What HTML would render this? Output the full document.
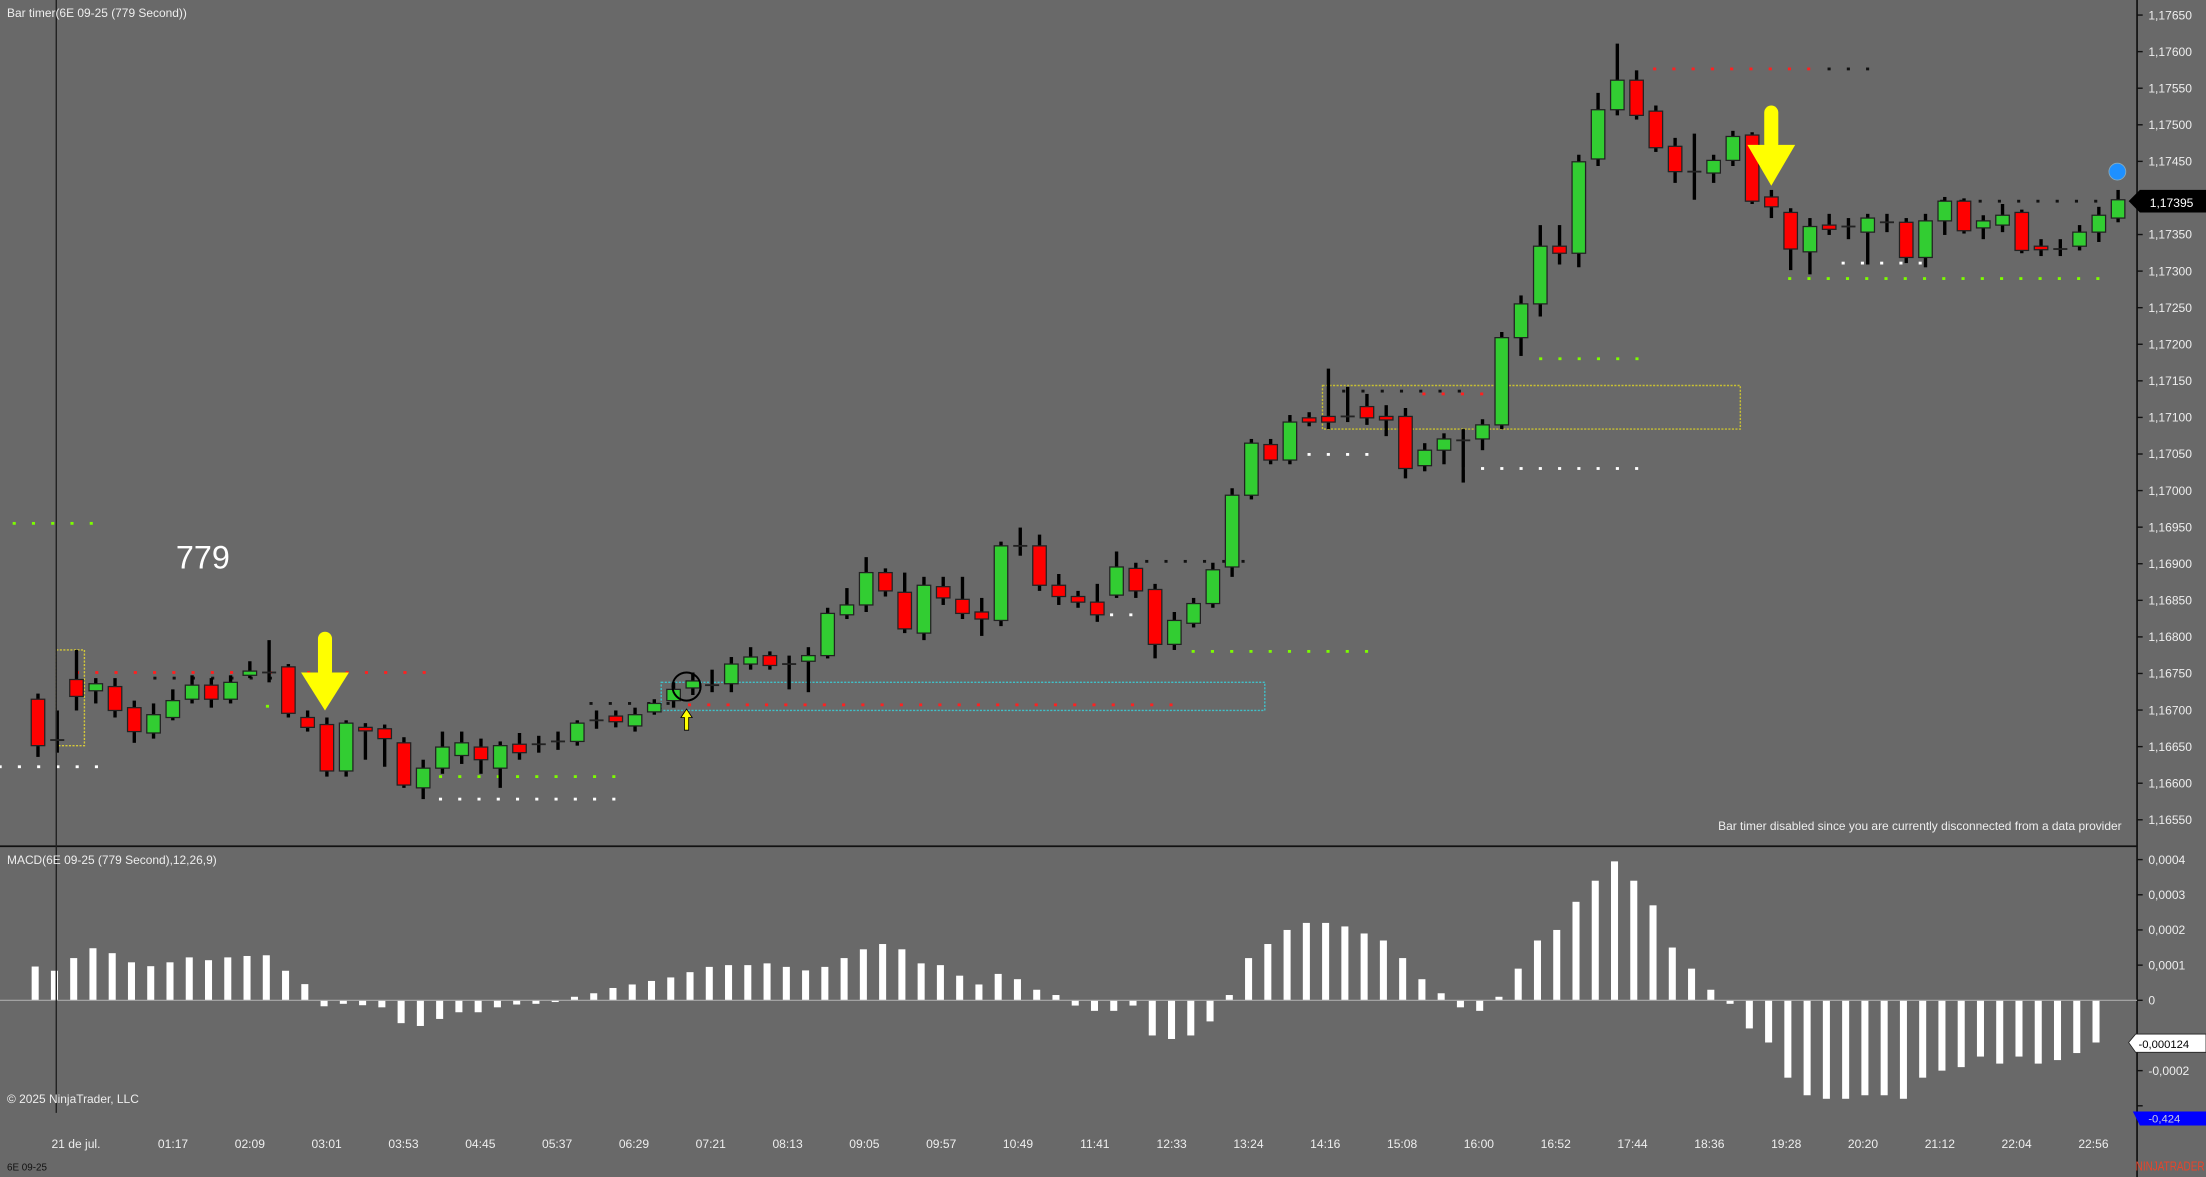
<!DOCTYPE html>
<html><head><meta charset="utf-8"><style>
html,body{margin:0;padding:0;background:#696969;overflow:hidden}
svg{display:block}
text{font-family:"Liberation Sans",sans-serif}
</style></head><body>
<svg id="s" width="2206" height="1177" viewBox="0 0 1568 836.6" preserveAspectRatio="none" xmlns="http://www.w3.org/2000/svg">
<rect x="0" y="0" width="1568" height="836.6" fill="#696969"/>
<g id="dots"></g>
<g id="boxes">
<rect x="40" y="462" width="20" height="68" fill="none" stroke="#d4c83a" stroke-width="1" stroke-dasharray="1.5,1"/>
<rect x="470" y="485" width="429" height="20" fill="none" stroke="#40c0c8" stroke-width="1" stroke-dasharray="1.5,1"/>
<rect x="940" y="274" width="297" height="31" fill="none" stroke="#c8c032" stroke-width="1" stroke-dasharray="1.5,1"/>
</g>
<g id="candles"></g>
<g id="macd"></g>
<line x1="1519" y1="0" x2="1519" y2="836.6" stroke="#111" stroke-width="1.2"/>
<line x1="0" y1="601.5" x2="1519" y2="601.5" stroke="#111" stroke-width="1.2"/>
<line x1="0" y1="867" x2="1568" y2="867" stroke="#111" stroke-width="1.2"/>
<line x1="0" y1="711" x2="1519" y2="711" stroke="#aaa" stroke-width="0.8"/>
<line x1="40" y1="0" x2="40" y2="791" stroke="#222" stroke-width="1"/>
<g id="axis" font-size="8.6" fill="#eee"></g>
<g fill="#ffff00">
<rect x="226" y="449" width="10" height="33" rx="5"/>
<polygon points="214,478 248,478 231,505"/>
<rect x="1254" y="75" width="10" height="32" rx="5"/>
<polygon points="1242,103 1276,103 1259,132"/>
<polygon points="488,504 492,510 489.5,510 489.5,519 486.5,519 486.5,510 484,510" stroke="#000" stroke-width="0.6"/>
</g>
<circle cx="488" cy="488" r="10" fill="none" stroke="#000" stroke-width="1.4"/>
<circle cx="1505" cy="122" r="6" fill="#1e90ff" stroke="#8ab" stroke-width="0.6"/>
<text x="125" y="404" font-size="23" fill="#fff">779</text>
<text x="5" y="12" font-size="8.5" fill="#eee">Bar timer(6E 09-25 (779 Second))</text>
<text x="1508" y="590" font-size="8.5" fill="#eee" text-anchor="end">Bar timer disabled since you are currently disconnected from a data provider</text>
<text x="5" y="614" font-size="8.5" fill="#eee">MACD(6E 09-25 (779 Second),12,26,9)</text>
<text x="5" y="784" font-size="8.5" fill="#eee">© 2025 NinjaTrader, LLC</text>
<text x="5" y="832" font-size="7" fill="#111">6E 09-25</text>
<polygon points="1513,143 1521,135 1568,135 1568,151 1521,151" fill="#000"/>
<text x="1528" y="147" font-size="8.6" fill="#fff">1,17395</text>
<polygon points="1513,741 1518,735 1568,735 1568,748 1518,748" fill="#fff" stroke="#222" stroke-width="0.6"/>
<text x="1520" y="745" font-size="8" fill="#000">-0,000124</text>
<polygon points="1516,790 1568,790 1568,800 1521,800" fill="#0000ff"/>
<text x="1527" y="798" font-size="8" fill="#ccd">-0,424</text>
<text x="1518" y="832" font-size="9" fill="#e8442a" textLength="49" lengthAdjust="spacingAndGlyphs">NINJATRADER</text>
</svg>
<script>
var NS="http://www.w3.org/2000/svg";
function el(p,t,a){var e=document.createElementNS(NS,t);for(var k in a)e.setAttribute(k,a[k]);p.appendChild(e);return e;}
var C=[
[497,530,493,538,'r'],[526,526,505,535,'d'],[483,495,462,505,'r'],[486,491,482,500,'g'],[488,505,482,510,'r'],
[503,520,498,528,'r'],[508,521,500,525,'g'],[498,510,490,512,'g'],[487,497,480,500,'g'],[487,497,482,503,'r'],
[485,497,480,500,'g'],[477,480,470,482,'g'],[478,478,455,485,'d'],[474,507,472,510,'r'],[510,517,505,520,'r'],
[515,548,510,552,'r'],[514,548,512,552,'g'],[517,519,514,540,'r'],[518,525,515,545,'r'],[528,558,524,560,'r'],
[546,560,540,568,'g'],[531,546,520,550,'g'],[528,537,520,543,'g'],[531,540,525,550,'r'],[530,546,527,560,'g'],
[529,535,521,540,'r'],[529,529,523,535,'d'],[527,527,520,533,'d'],[514,527,512,530,'g'],[512,512,505,518,'d'],
[509,513,505,517,'r'],[508,516,503,520,'g'],[500,506,497,508,'g'],[490,498,485,503,'g'],[484,489,478,494,'g'],
[487,487,476,492,'d'],[472,486,467,492,'g'],[467,472,460,476,'g'],[466,473,463,476,'r'],[472,472,466,490,'d'],
[466,470,460,492,'g'],[436,466,432,468,'g'],[430,437,418,440,'g'],[407,430,396,435,'g'],[407,420,404,424,'r'],
[421,447,407,450,'r'],[416,450,410,455,'g'],[417,425,410,430,'r'],[426,436,410,440,'r'],[435,440,425,452,'r'],
[388,441,385,445,'g'],[388,388,375,395,'d'],[388,416,380,420,'r'],[416,424,408,430,'r'],[424,428,420,432,'r'],
[428,437,415,442,'r'],[403,423,392,425,'g'],[404,420,400,425,'r'],[419,458,415,468,'r'],[441,458,435,462,'g'],
[429,443,425,446,'g'],[405,429,400,432,'g'],[352,403,347,410,'g'],[315,352,312,355,'g'],[316,327,312,330,'r'],
[300,327,295,330,'g'],[297,300,293,303,'r'],[296,300,262,305,'r'],[296,296,275,300,'d'],[289,297,280,302,'r'],
[296,298,288,310,'r'],[296,333,290,340,'r'],[320,331,315,335,'g'],[312,320,308,330,'g'],[313,313,305,343,'d'],
[302,312,298,320,'g'],[240,302,236,305,'g'],[216,240,210,253,'g'],[175,216,160,225,'g'],[175,180,160,188,'r'],
[115,180,110,190,'g'],[78,113,66,118,'g'],[57,78,31,82,'g'],[57,82,50,85,'r'],[79,105,75,108,'r'],
[104,122,98,130,'r'],[122,122,95,142,'d'],[114,123,110,130,'g'],[97,114,93,118,'g'],[96,143,94,145,'r'],
[140,147,135,155,'r'],[151,177,148,192,'r'],[161,179,155,195,'g'],[160,163,152,167,'r'],[161,161,155,170,'d'],
[155,165,152,188,'g'],[158,158,152,165,'d'],[158,183,155,187,'r'],[157,183,152,190,'g'],[143,157,140,167,'g'],
[143,164,141,166,'r'],[157,162,153,170,'g'],[153,160,145,165,'g'],[151,178,149,180,'r'],[175,177,170,182,'r'],
[177,177,170,182,'d'],[165,175,160,178,'g'],[153,165,147,172,'g'],[142,155,135,158,'g']];
function X(i){return 27+13.69*i;}
var g=document.getElementById('candles');
C.forEach(function(c,i){var x=X(i);
 el(g,'line',{x1:x,y1:c[2],x2:x,y2:c[3],stroke:'#000','stroke-width':2.4});
 if(c[4]=='d'){el(g,'line',{x1:x-5,y1:c[0],x2:x+5,y2:c[0],stroke:'#222','stroke-width':1.3});}
 else{var h=Math.max(c[1]-c[0],2.5);el(g,'rect',{x:x-4.8,y:c[0],width:9.6,height:h,fill:c[4]=='r'?'#ff0000':'#32cd32',stroke:'#222','stroke-width':0.9});}
});
var M=[0.96,0.84,1.2,1.48,1.34,1.08,0.97,1.08,1.22,1.14,1.22,1.26,1.28,0.84,0.46,-0.17,-0.1,-0.14,-0.2,-0.65,-0.73,-0.53,-0.34,-0.34,-0.2,
-0.12,-0.1,-0.05,0.1,0.2,0.35,0.45,0.55,0.65,0.8,0.95,1.0,1.0,1.05,0.95,0.85,0.95,1.2,1.45,1.6,1.45,1.05,1.0,0.7,0.45,0.75,0.6,0.3,0.15,-0.15,-0.3,-0.3,-0.15,
-1.0,-1.1,-1.0,-0.6,0.15,1.2,1.6,2.0,2.2,2.2,2.1,1.9,1.7,1.2,0.6,0.2,-0.2,-0.3,0.1,0.9,1.7,2.0,2.8,3.4,3.95,3.4,2.7,1.5,0.9,0.3,-0.1,-0.8,-1.2,-2.2,-2.7,-2.8,-2.8,-2.7,-2.7,-2.8,-2.2,-2.0,-1.9,-1.6,-1.8,-1.6,-1.8,-1.7,-1.5,-1.2];
var m=document.getElementById('macd');
M.forEach(function(v,i){var x=X(i)-2-2.5;var h=Math.abs(v)*25;
 el(m,'rect',{x:x,y:v>=0?711-h:711,width:5,height:Math.max(h,1),fill:'#fff'});});
var d=document.getElementById('dots');
function dots(x1,x2,y,col,step){step=step||13.69;for(var x=x1;x<=x2;x+=step)el(d,'rect',{x:x-1,y:y-1,width:2.2,height:2,fill:col});}
dots(0,70,545,'#fff');dots(313,440,568,'#fff');dots(790,812,437,'#fff');dots(903,975,323,'#fff');dots(1040,1165,333,'#fff');dots(1310,1370,187,'#fff');
dots(10,70,372,'#7cfc00');dots(190,212,502,'#7cfc00');dots(313,440,552,'#7cfc00');dots(848,975,463,'#7cfc00');dots(1095,1165,255,'#7cfc00');dots(1272,1495,198,'#7cfc00');
dots(55,315,478,'#ff2020');dots(490,835,501,'#ff2020');dots(1012,1080,280,'#ff2020');dots(1176,1290,49,'#ff2020');
dots(1300,1330,49,'#111');dots(815,890,399,'#111');dots(955,1040,278,'#111');dots(1380,1500,143,'#111');dots(420,480,500,'#111');dots(110,200,482,'#111');
var a=document.getElementById('axis');
var P=['1,17650','1,17600','1,17550','1,17500','1,17450','1,17400','1,17350','1,17300','1,17250','1,17200','1,17150','1,17100','1,17050','1,17000','1,16950','1,16900','1,16850','1,16800','1,16750','1,16700','1,16650','1,16600','1,16550'];
P.forEach(function(p,i){var y=10.7+26.0*i;el(a,'line',{x1:1519,y1:y,x2:1523,y2:y,stroke:'#111','stroke-width':1});
 if(p!='1,17400'){var t=el(a,'text',{x:1527,y:y+3});t.textContent=p;}});
[['0,0004',611],['0,0003',636],['0,0002',661],['0,0001',686],['0',711],['-0,0002',761]].forEach(function(q){
 el(a,'line',{x1:1519,y1:q[1],x2:1523,y2:q[1],stroke:'#111','stroke-width':1});var t=el(a,'text',{x:1527,y:q[1]+3});t.textContent=q[0];});
el(a,'line',{x1:1519,y1:736,x2:1523,y2:736,stroke:'#111','stroke-width':1});el(a,'line',{x1:1519,y1:786,x2:1523,y2:786,stroke:'#111','stroke-width':1});
var T=['21 de jul.','01:17','02:09','03:01','03:53','04:45','05:37','06:29','07:21','08:13','09:05','09:57','10:49','11:41','12:33','13:24','14:16','15:08','16:00','16:52','17:44','18:36','19:28','20:20','21:12','22:04','22:56'];
T.forEach(function(s,i){var x=i==0?54:123+54.6*(i-1);
 el(a,'line',{x1:x,y1:867,x2:x,y2:872,stroke:'#111','stroke-width':1});var t=el(a,'text',{x:x,y:816,'text-anchor':'middle'});t.textContent=s;});
</script>
</body></html>
